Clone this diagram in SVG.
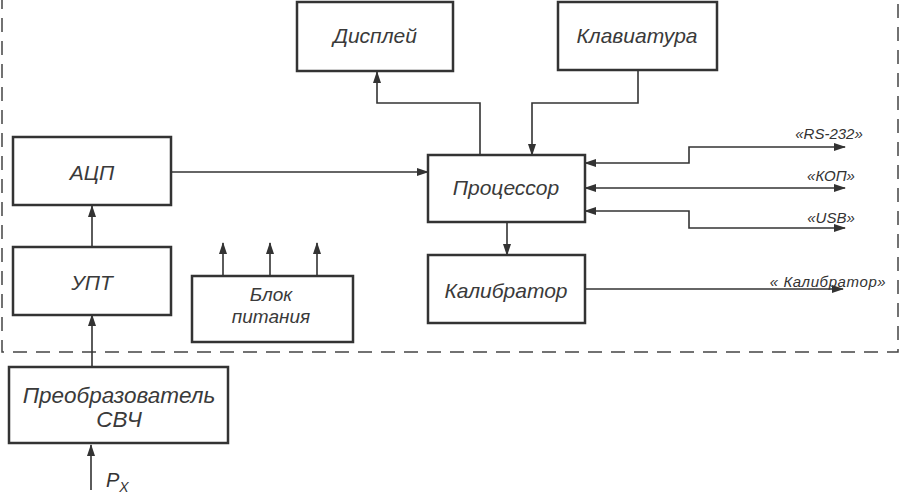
<svg xmlns="http://www.w3.org/2000/svg" width="902" height="498" viewBox="0 0 902 498">
<style>
.box{fill:#fff;stroke:#333;stroke-width:2.5}
.ln{fill:none;stroke:#333;stroke-width:1.6}
.t{font-family:"Liberation Sans",Arial,sans-serif;font-style:italic;font-size:21px;fill:#3a3a3a;text-anchor:middle}
.s{font-family:"Liberation Sans",Arial,sans-serif;font-style:italic;font-size:15px;fill:#333;text-anchor:middle}
</style>
<defs>
<marker id="a" viewBox="0 0 12 8" refX="11" refY="4" markerWidth="12" markerHeight="8" markerUnits="userSpaceOnUse" orient="auto-start-reverse">
<path d="M0,0 L12,4 L0,8 Z" fill="#333"/>
</marker>
</defs>
<rect width="902" height="498" fill="#fff"/>
<path d="M2,-5 V352 H898 V-5" fill="none" stroke="#444" stroke-width="1.5" stroke-dasharray="14,9"/>
<g id="connectors">
<path class="ln" d="M92,247 V206" marker-end="url(#a)"/>
<path class="ln" d="M92,367 V315" marker-end="url(#a)"/>
<path class="ln" d="M91,490 V445" marker-end="url(#a)"/>
<path class="ln" d="M223,276 V243" marker-end="url(#a)"/>
<path class="ln" d="M270,276 V243" marker-end="url(#a)"/>
<path class="ln" d="M317,276 V243" marker-end="url(#a)"/>
<path class="ln" d="M171,172 H428" marker-end="url(#a)"/>
<path class="ln" d="M480,155 V103 H377 V72" marker-end="url(#a)"/>
<path class="ln" d="M638,70 V103 H532 V155" marker-end="url(#a)"/>
<path class="ln" d="M507,222 V255" marker-end="url(#a)"/>
<path class="ln" d="M585,289 H843" marker-end="url(#a)"/>
<path class="ln" d="M585,163 H689 V147 H845" marker-start="url(#a)" marker-end="url(#a)"/>
<path class="ln" d="M585,188 H845" marker-start="url(#a)" marker-end="url(#a)"/>
<path class="ln" d="M585,211 H689 V228 H845" marker-start="url(#a)" marker-end="url(#a)"/>
</g>
<g id="adc"><rect class="box" x="13" y="137" width="158" height="68"/><text class="t" x="92" y="180">АЦП</text></g>
<g id="upt"><rect class="box" x="13" y="247" width="158" height="68"/><text class="t" x="92" y="290">УПТ</text></g>
<g id="conv"><rect class="box" x="9" y="367" width="219" height="76"/><text class="t" x="119" y="403" style="font-size:22.5px">Преобразователь</text><text class="t" x="119" y="427" style="font-size:22.5px">СВЧ</text></g>
<g id="px"><text x="106" y="487" font-family="Liberation Sans,Arial,sans-serif" font-style="italic" font-size="20" fill="#333">P<tspan font-size="14" dy="5">X</tspan></text></g>
<g id="power"><rect class="box" x="192" y="276" width="161" height="66"/><text class="t" x="271" y="301" style="font-size:19px">Блок</text><text class="t" x="271" y="323" style="font-size:19px">питания</text></g>
<g id="display"><rect class="box" x="297" y="2" width="156" height="69"/><text class="t" x="375" y="43">Дисплей</text></g>
<g id="keyboard"><rect class="box" x="558" y="2" width="159" height="68"/><text class="t" x="637" y="43">Клавиатура</text></g>
<g id="cpu"><rect class="box" x="428" y="155" width="157" height="67"/><text class="t" x="506" y="195">Процессор</text></g>
<g id="calib"><rect class="box" x="428" y="255" width="157" height="68"/><text class="t" x="506" y="298">Калибратор</text></g>
<g id="labels">
<text class="s" x="829" y="139">«RS-232»</text>
<text class="s" x="831" y="181">«КОП»</text>
<text class="s" x="831" y="223">«USB»</text>
<text class="s" x="828" y="287" style="letter-spacing:0.6px">« Калибратор»</text>
</g>
</svg>
